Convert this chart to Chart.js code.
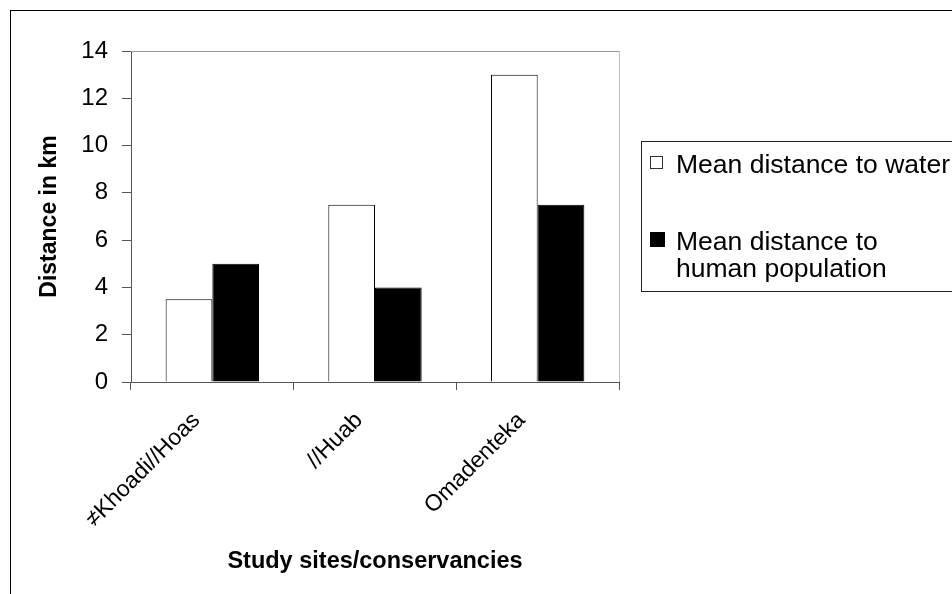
<!DOCTYPE html>
<html>
<head>
<meta charset="utf-8">
<script src="https://cdn.jsdelivr.net/npm/chart.js@4.4.0/dist/chart.umd.min.js"></script>
<style>
  html, body { margin: 0; padding: 0; background: #fff; }
</style>
</head>
<body>
<canvas id="grafico" width="952" height="594"></canvas>
<script>
var sites = ["≠Khoadi//Hoas", "//Huab", "Omadenteka"];
var distanciaAgua = [3.5, 7.5, 13];
var distanciaPopulacao = [5, 4, 7.5];
var seriesNames = ["Mean distance to water", "Mean distance to human population"];
var legendLines = [["Mean distance to water"], ["Mean distance to", "human population"]];
var yMin = 0, yMax = 14, yStep = 2;

var fonte = "'Liberation Sans', Arial, sans-serif";

// moldura externa, borda da area do grafico e legenda
const moldura = {
  id: "moldura",
  afterDraw(chart) {
    const ctx = chart.ctx;
    const a = chart.chartArea;
    ctx.save();
    ctx.lineWidth = 1;

    ctx.strokeStyle = "#000";
    ctx.strokeRect(10.5, 10.5, 1200, 1200);

    ctx.strokeStyle = "#999";
    ctx.beginPath();
    ctx.moveTo(a.left, a.top + 0.5);
    ctx.lineTo(a.right + 1, a.top + 0.5);
    ctx.stroke();
    ctx.strokeStyle = "#c0c0c0";
    ctx.beginPath();
    ctx.moveTo(a.right + 0.5, a.top);
    ctx.lineTo(a.right + 0.5, a.bottom);
    ctx.stroke();

    // legenda
    ctx.strokeStyle = "#222";
    ctx.strokeRect(641.5, 141.5, 400, 150);

    ctx.fillStyle = "#fff";
    ctx.fillRect(650, 156, 13, 13);
    ctx.strokeStyle = "#333";
    ctx.strokeRect(650.5, 156.5, 12, 12);
    ctx.fillStyle = "#000";
    ctx.fillRect(650, 232, 15, 15);

    ctx.font = "26.5px " + fonte;
    ctx.textBaseline = "alphabetic";
    ctx.textAlign = "left";
    ctx.fillStyle = "#000";
    ctx.fillText(legendLines[0][0], 676, 173);
    ctx.fillText(legendLines[1][0], 676, 250);
    ctx.fillText(legendLines[1][1], 676, 277);
    ctx.restore();
  }
};

const ctx = document.getElementById("grafico").getContext("2d");
let myChart = new Chart(ctx, {
  type: "bar",
  data: {
    labels: sites,
    datasets: [
      {
        label: seriesNames[0],
        data: distanciaAgua,
        backgroundColor: "#ffffff",
        borderColor: "#000000",
        borderWidth: 1,
      },
      {
        label: seriesNames[1],
        data: distanciaPopulacao,
        backgroundColor: "#000000",
        borderColor: "#000000",
        borderWidth: 1,
      },
    ],
  },
  options: {
    responsive: false,
    animation: false,
    layout: {
      padding: { top: 51, right: 333, left: 10, bottom: 0 },
    },
    plugins: {
      legend: { display: false },
      tooltip: { enabled: false },
    },
    datasets: {
      bar: { categoryPercentage: 0.574, barPercentage: 1 },
    },
    scales: {
      x: {
        afterFit: (scale) => { scale.height = 212; },
        grid: {
          offset: true,
          drawOnChartArea: false,
          tickLength: 8,
          color: "#555",
        },
        border: { color: "#555" },
        ticks: {
          minRotation: 45,
          maxRotation: 45,
          color: "#000",
          padding: 17,
          labelOffset: -16,
          font: { family: fonte, size: 23 },
        },
        title: {
          display: true,
          text: "Study sites/conservancies",
          color: "#000",
          font: { family: fonte, size: 23.5, weight: "bold" },
          padding: { top: 0, bottom: 18 },
        },
      },
      y: {
        min: yMin,
        max: yMax,
        afterFit: (scale) => { scale.width = 121; },
        grid: {
          drawOnChartArea: false,
          tickLength: 9,
          color: "#555",
        },
        border: { color: "#555" },
        ticks: {
          stepSize: yStep,
          color: "#000",
          padding: 14,
          font: { family: fonte, size: 24 },
        },
        title: {
          display: true,
          text: "Distance in km",
          color: "#000",
          font: { family: fonte, size: 23, weight: "bold" },
          padding: { top: 26, bottom: 0 },
        },
      },
    },
  },
  plugins: [moldura],
});
</script>
</body>
</html>
